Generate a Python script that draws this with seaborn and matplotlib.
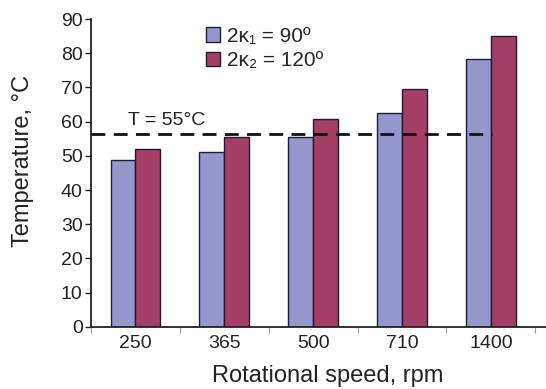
import matplotlib
matplotlib.use("Agg")
import matplotlib.pyplot as plt
import seaborn as sns
import pandas as pd
import numpy as np

speeds = ["250", "365", "500", "710", "1400"]
temp_90 = [48.7, 51.2, 55.6, 62.4, 78.3]
temp_120 = [51.9, 55.6, 60.9, 69.6, 85.1]
series_labels = ["2κ\u2081 = 90º", "2κ\u2082 = 120º"]
threshold = 56.5
threshold_label = "T = 55°C"

sns.set_theme(style="white")
plt.rcParams['font.family'] = ['Liberation Sans', 'DejaVu Sans']

df = pd.DataFrame({
    "speed": speeds * 2,
    "temp": temp_90 + temp_120,
    "series": [series_labels[0]] * len(speeds) + [series_labels[1]] * len(speeds),
})

fig = plt.figure(figsize=(5.46, 3.89), dpi=100)
ax = fig.add_axes([0.1667, 0.160, 0.8333, 0.791])

sns.barplot(data=df, x="speed", y="temp", hue="series", order=speeds,
            hue_order=series_labels, palette=["#9697cf", "#a43e64"],
            saturation=1, width=0.56, gap=0, edgecolor="#1c1c38",
            linewidth=1.0, errorbar=None, ax=ax)

ax.set_ylim(0, 90)
ax.set_xlim(-0.5, 4.62)
ax.set_yticks(np.arange(0, 91, 10))
ax.tick_params(axis="y", labelsize=14, length=4, width=1, direction="out",
               left=True, colors="#222222", pad=2)
ax.tick_params(axis="x", labelsize=14, length=0, pad=6, colors="#222222")
ax.set_xticks(np.arange(-0.5, 4.6, 1.0), minor=True)
ax.tick_params(axis="x", which="minor", length=4, width=0.8, color="#999999",
               bottom=True, direction="out")

for s in ["top", "right"]:
    ax.spines[s].set_visible(False)
for s in ["left", "bottom"]:
    ax.spines[s].set_color("#222222")
    ax.spines[s].set_linewidth(1.3)

ax.hlines(threshold, -0.5, 4.01, colors="#111111", linestyles=(0, (5, 3)),
          linewidth=2.0, zorder=5)
ax.text(-0.08, 57.8, threshold_label, fontsize=14, color="#222222",
        ha="left", va="bottom")

ax.set_xlabel("Rotational speed, rpm", fontsize=17, color="#222222", labelpad=9)
ax.xaxis.label.set_x(0.52)
ax.set_ylabel("Temperature, °C", fontsize=17, color="#222222")
ax.yaxis.set_label_coords(-0.125, 0.54)

leg = ax.legend(loc="upper left", bbox_to_anchor=(0.225, 1.015), frameon=False,
                fontsize=15, handlelength=0.7, handleheight=0.7,
                handletextpad=0.3, labelspacing=0.25, borderaxespad=0.2)

fig.savefig("out.png", dpi=100)
